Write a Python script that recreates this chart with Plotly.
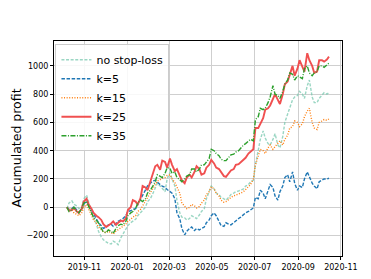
import pandas as pd
import plotly.graph_objects as go

mondays = pd.date_range("2019-10-07", "2020-10-12", freq="W-MON")
thursdays = pd.date_range("2019-10-10", "2020-10-15", freq="W-THU")

no_stop_mon = [-10,45,10,0,85,-30,-120,-210,-245,-260,-250,-215,-150,-110,-85,-40,0,60,130,150,110,245,150,-40,-75,
               -80,-70,-55,-10,110,130,90,60,70,100,115,130,160,190,400,540,450,480,440,500,660,760,790,800,860,
               780,740,790,800]
no_stop_thu = [30,20,-10,60,30,-80,-170,-230,-255,-240,-265,-190,-130,-100,-60,-20,40,90,170,130,200,200,50,-70,
               -90,-60,-80,-30,60,150,100,70,50,90,110,120,150,180,300,480,490,440,520,420,600,700,780,820,770,900,
               740,770,810,810]
k5_mon = [0,-10,-20,-15,45,-20,-80,-130,-140,-120,-115,-90,-60,-25,-10,50,120,170,190,160,140,110,60,-80,-195,-150,
          -165,-160,-140,-90,-40,-100,-135,-120,-110,-80,-50,-30,-5,60,100,110,140,50,150,230,250,120,140,250,170,
          130,190,200]
k5_thu = [-15,5,-35,20,10,-50,-110,-150,-125,-135,-100,-80,-30,-15,20,90,150,185,175,150,125,100,-40,-150,-170,
          -140,-150,-150,-110,-60,-60,-130,-110,-125,-95,-70,-40,-20,70,120,60,160,80,110,210,180,170,150,200,210,
          150,180,200,205]
k15_mon = [0,-10,-50,-40,20,-50,-110,-160,-180,-180,-170,-150,-120,-85,-60,-15,40,100,160,195,210,230,175,100,5,0,
           10,5,50,110,130,80,35,55,80,90,110,140,200,360,400,420,410,450,440,510,570,600,590,680,600,550,610,615]
k15_thu = [-20,-40,-60,0,-10,-90,-140,-175,-170,-190,-160,-135,-100,-70,-30,10,70,130,185,205,225,200,140,30,-10,
           20,-5,30,90,145,100,50,40,70,85,100,125,160,300,410,380,440,430,470,480,560,610,570,640,700,560,600,
           620,625]
k25_mon = [0,-20,-30,-10,60,-10,-60,-90,-140,-115,-125,-95,-80,0,40,65,140,180,290,265,320,345,255,220,170,230,
           250,270,240,300,310,270,220,240,270,305,340,380,410,560,630,700,760,760,800,890,1000,980,990,1090,1000,
           960,1040,1045]
k25_thu = [-25,-5,-40,40,20,-40,-70,-120,-130,-100,-110,-100,-20,50,20,150,120,230,300,330,280,300,270,190,210,
           210,290,230,280,335,280,245,215,260,300,320,350,395,560,590,690,720,800,730,870,940,930,1040,960,1040,
           950,1040,1030,1065]
k35_mon = [0,-20,-30,-10,40,-40,-90,-150,-180,-170,-150,-120,-100,-40,-10,50,60,120,180,220,240,275,250,195,200,
           230,270,270,300,345,400,365,330,355,375,400,440,465,470,640,690,740,860,790,820,900,940,930,910,1000,
           930,960,1000,1010]
k35_thu = [-30,0,-40,30,0,-70,-110,-175,-160,-185,-130,-125,-60,-30,30,40,100,150,230,210,280,240,210,180,220,
           270,250,300,320,410,380,340,330,370,390,420,450,480,620,700,700,780,800,770,870,950,900,920,980,950,
           950,1000,990,1020]

series_names = ["no stop-loss", "k=5", "k=15", "k=25", "k=35"]
y_ticks = [-200, 0, 200, 400, 600, 800, 1000]
y_tick_text = ["\u2212200", "0", "200", "400", "600", "800", "1000"]
y_label = "Accumulated profit"

def build(mon, thu):
    s = pd.concat([pd.Series(mon, index=mondays), pd.Series(thu, index=thursdays)]).sort_index()
    return s

series = [build(no_stop_mon, no_stop_thu), build(k5_mon, k5_thu), build(k15_mon, k15_thu),
          build(k25_mon, k25_thu), build(k35_mon, k35_thu)]

styles = [
    dict(color="rgba(120,200,175,0.75)", dash="3px,1.6px", width=1.4),
    dict(color="#1f77b4", dash="3.5px,1.6px", width=1.4),
    dict(color="#ff7f0e", dash="1px,1.6px", width=1.4),
    dict(color="#f05050", dash="solid", width=1.9),
    dict(color="#2ca02c", dash="5px,1.5px,1px,1.5px", width=1.4),
]

fig = go.Figure()
for name, s, st in zip(series_names, series, styles):
    fig.add_trace(go.Scatter(x=s.index, y=s.values, mode="lines", name=name, line=st))

font_family = "DejaVu Sans"
fig.update_layout(
    width=371, height=279,
    margin=dict(l=46, r=37, t=33, b=31),
    paper_bgcolor="white", plot_bgcolor="white",
    font=dict(family=font_family, color="black", size=8),
    legend=dict(x=0.005, y=0.985, xanchor="left", yanchor="top",
                bgcolor="rgba(255,255,255,0.85)", bordercolor="#cccccc", borderwidth=1,
                font=dict(size=11, family=font_family), itemwidth=30, tracegroupgap=0),
    showlegend=True,
    annotations=[dict(text=y_label, xref="paper", yref="paper", x=-0.132, y=0.505,
                      textangle=-90, showarrow=False, xanchor="center", yanchor="middle",
                      font=dict(size=12.5, family=font_family, color="black"))],
)
fig.update_xaxes(
    range=["2019-09-18 12:00", "2020-11-02 14:00"],
    tickformat="%Y-%m", dtick="M2", tick0="2019-11-01",
    showgrid=True, gridcolor="#cfcfcf", gridwidth=1,
    showline=True, linecolor="black", linewidth=1, mirror=True,
    ticks="outside", ticklen=3, tickcolor="black",
    tickfont=dict(size=8), zeroline=False,
)
fig.update_yaxes(
    range=[-345, 1176],
    tickvals=y_ticks, ticktext=y_tick_text,
    showgrid=True, gridcolor="#cfcfcf", gridwidth=1,
    showline=True, linecolor="black", linewidth=1, mirror=True,
    ticks="outside", ticklen=3, tickcolor="black",
    tickfont=dict(size=8), zeroline=False, automargin=False,
)
fig.write_html("out.html")
